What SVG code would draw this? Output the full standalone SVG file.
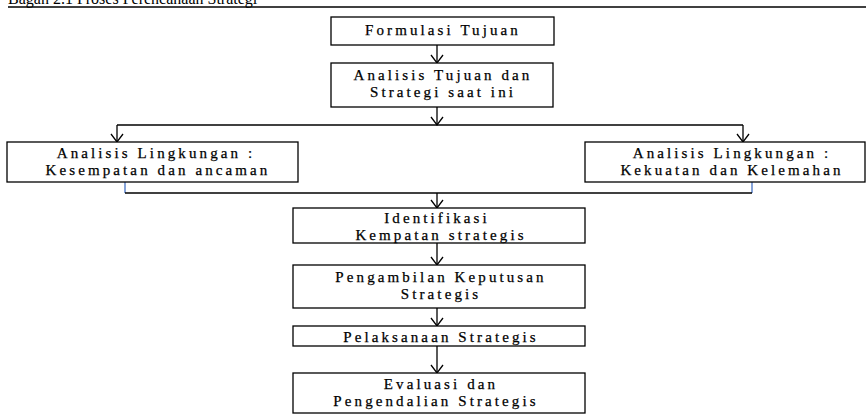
<svg xmlns="http://www.w3.org/2000/svg" width="866" height="417" viewBox="0 0 866 417">
<style>
.box{fill:#fff;stroke:#000;stroke-width:1.3}
.t{font-family:"Liberation Serif","Times New Roman",Times,serif;font-size:15px;fill:#000;stroke:#000;stroke-width:0.25;text-anchor:middle;letter-spacing:3.1px}
.c{fill:none;stroke:#000;stroke-width:1.3}
.b{fill:none;stroke:#4472c4;stroke-width:1.3}
</style>
<defs>
<marker id="a" markerWidth="14" markerHeight="14" refX="11" refY="7" orient="auto" markerUnits="userSpaceOnUse" viewBox="0 0 14 14">
<path d="M3,1 L11,7 L3,13" fill="none" stroke="#000" stroke-width="1.3"/>
</marker>
</defs>
<text x="8" y="4" font-family="Liberation Serif, Times New Roman, serif" font-size="16">Bagan 2.1 Proses Perencanaan Strategi</text>
<line x1="8" y1="7" x2="866" y2="7" stroke="#000" stroke-width="1.3"/>
<g id="connectors">
<line class="c" x1="437" y1="45" x2="437" y2="63" marker-end="url(#a)"/>
<line class="c" x1="437" y1="107" x2="437" y2="125" marker-end="url(#a)"/>
<polyline class="c" points="117,125 743,125"/>
<line class="c" x1="117" y1="125" x2="117" y2="142" marker-end="url(#a)"/>
<line class="c" x1="743" y1="125" x2="743" y2="142" marker-end="url(#a)"/>
<line class="b" x1="125" y1="182" x2="125" y2="193"/>
<line class="b" x1="752" y1="182" x2="752" y2="193"/>
<line class="c" x1="125" y1="193" x2="752" y2="193"/>
<line class="c" x1="437" y1="193" x2="437" y2="208" marker-end="url(#a)"/>
<line class="c" x1="437" y1="243" x2="437" y2="265" marker-end="url(#a)"/>
<line class="c" x1="437" y1="308" x2="437" y2="326" marker-end="url(#a)"/>
<line class="c" x1="437" y1="346" x2="437" y2="373" marker-end="url(#a)"/>
</g>
<g id="n1"><rect class="box" x="331" y="17" width="223" height="28"/><text class="t" x="443" y="35">Formulasi Tujuan</text></g>
<g id="n2"><rect class="box" x="331" y="63" width="222" height="44"/><text class="t" x="443" y="80">Analisis Tujuan dan</text><text class="t" x="443" y="97">Strategi saat ini</text></g>
<g id="n3"><rect class="box" x="7" y="142" width="291" height="40"/><text class="t" x="156" y="158">Analisis Lingkungan :</text><text class="t" x="158" y="175">Kesempatan dan ancaman</text></g>
<g id="n4"><rect class="box" x="585" y="142" width="280" height="40"/><text class="t" x="732" y="158">Analisis Lingkungan :</text><text class="t" x="732" y="175">Kekuatan dan Kelemahan</text></g>
<g id="n5"><rect class="box" x="293" y="208" width="292" height="35"/><text class="t" x="437" y="223">Identifikasi</text><text class="t" x="441" y="240">Kempatan strategis</text></g>
<g id="n6"><rect class="box" x="293" y="265" width="292" height="43"/><text class="t" x="441" y="282">Pengambilan Keputusan</text><text class="t" x="441" y="299">Strategis</text></g>
<g id="n7"><rect class="box" x="293" y="326" width="292" height="20"/><text class="t" x="441" y="342">Pelaksanaan Strategis</text></g>
<g id="n8"><rect class="box" x="293" y="373" width="292" height="40"/><text class="t" x="441" y="389">Evaluasi dan</text><text class="t" x="436" y="406">Pengendalian Strategis</text></g>
</svg>
